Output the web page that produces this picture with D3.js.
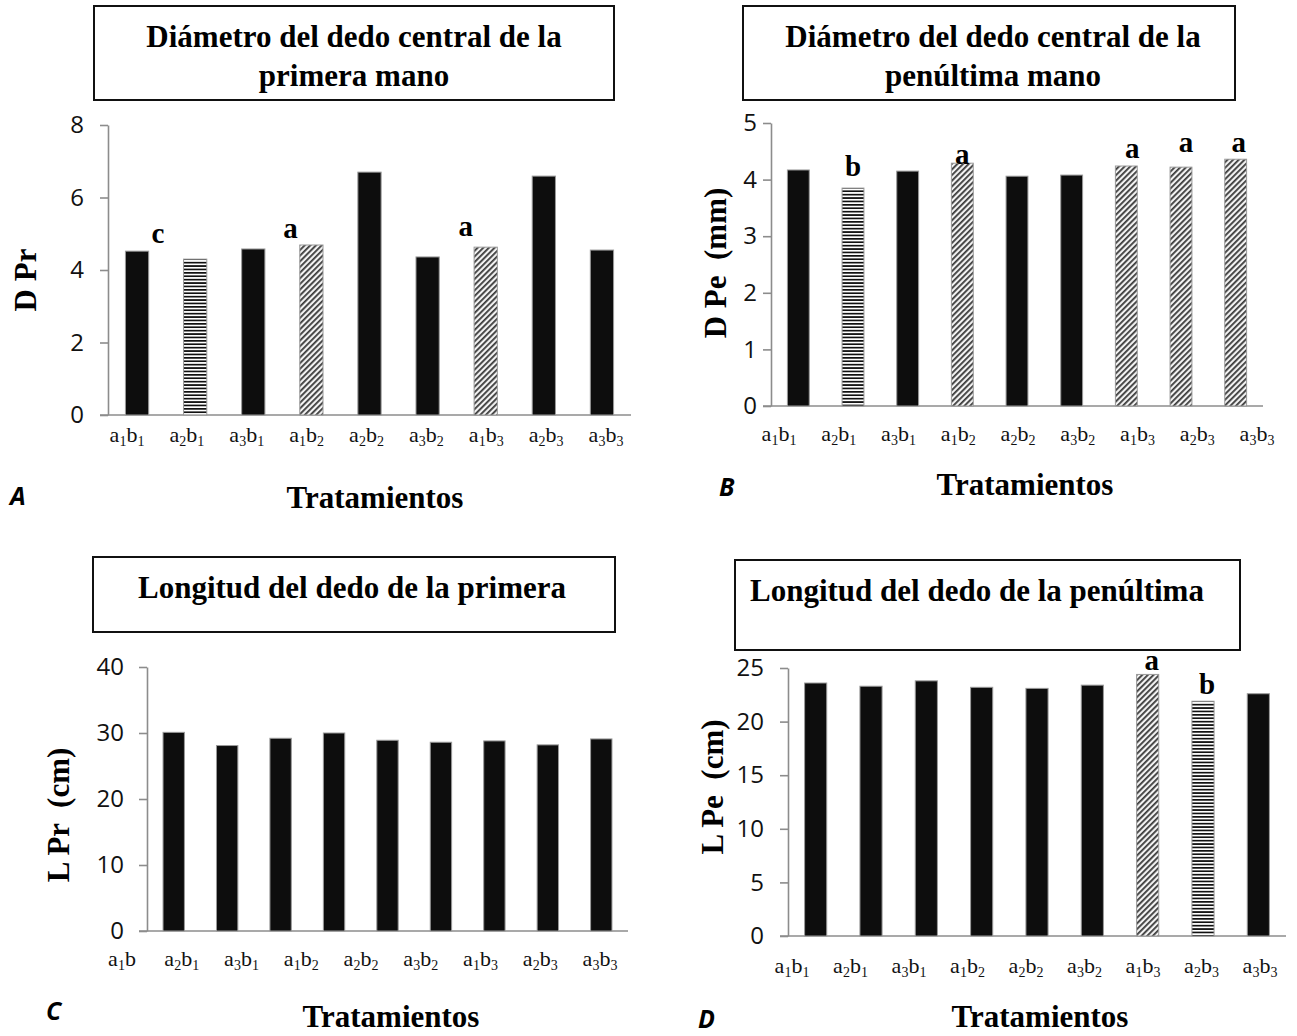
<!DOCTYPE html>
<html>
<head>
<meta charset="utf-8">
<script src="https://cdn.jsdelivr.net/npm/d3@7"></script>
<style>
  body { margin: 0; background: #fff; }
  svg { display: block; }
</style>
</head>
<body>
<div id="graph"></div>
<script>
// treatments (a = factor A level, b = factor B level)
const categories = ["a1b1", "a2b1", "a3b1", "a1b2", "a2b2", "a3b2", "a1b3", "a2b3", "a3b3"];
const labelsC = ["a1b", "a2b1", "a3b1", "a1b2", "a2b2", "a3b2", "a1b3", "a2b3", "a3b3"];

// values
const valuesA = [4.52, 4.30, 4.58, 4.69, 6.70, 4.36, 4.63, 6.59, 4.55];
const valuesB = [4.17, 3.85, 4.15, 4.29, 4.06, 4.08, 4.24, 4.22, 4.36];
const valuesC = [30.1, 28.1, 29.2, 30.0, 28.9, 28.6, 28.8, 28.2, 29.1];
const valuesD = [23.6, 23.3, 23.8, 23.2, 23.1, 23.4, 24.4, 21.9, 22.6];

// fill kind of each bar
const fillsA = ["solid", "horiz", "solid", "diag", "solid", "solid", "diag", "solid", "solid"];
const fillsB = ["solid", "horiz", "solid", "diag", "solid", "solid", "diag", "diag", "diag"];
const fillsC = ["solid", "solid", "solid", "solid", "solid", "solid", "solid", "solid", "solid"];
const fillsD = ["solid", "solid", "solid", "solid", "solid", "solid", "diag", "horiz", "solid"];

// significance letters
const lettersA = ["c", "", "", "a", "", "", "a", "", ""];
const lettersB = ["", "b", "", "a", "", "", "a", "a", "a"];
const lettersD = ["", "", "", "", "", "", "a", "b", ""];

// y ticks
const ticksA = [0, 2, 4, 6, 8];
const ticksB = [0, 1, 2, 3, 4, 5];
const ticksC = [0, 10, 20, 30, 40];
const ticksD = [0, 5, 10, 15, 20, 25];

const titleA = ["Diámetro del dedo central de la", "primera mano"];
const titleB = ["Diámetro del dedo central de la", "penúltima mano"];
const titleC = ["Longitud del dedo de la primera"];
const titleD = ["Longitud del dedo de la penúltima"];

const W = 1297, H = 1036;
const serif = "'Liberation Serif', 'Times New Roman', serif";
const sans = "'Open Sans', 'DejaVu Sans', sans-serif";
const axisGrey = "#8c8c8c";

const svg = d3.select("#graph").append("svg").attr("width", W).attr("height", H);

// patterns
const defs = svg.append("defs");
const ph = defs.append("pattern").attr("id", "horiz").attr("patternUnits", "userSpaceOnUse")
  .attr("width", 8).attr("height", 3.4);
ph.append("rect").attr("width", 8).attr("height", 3.4).attr("fill", "#fff");
ph.append("rect").attr("y", 0).attr("width", 8).attr("height", 1.7).attr("fill", "#111");

const pd = defs.append("pattern").attr("id", "diag").attr("patternUnits", "userSpaceOnUse")
  .attr("width", 4).attr("height", 4).attr("patternTransform", "rotate(-45)");
pd.append("rect").attr("width", 4).attr("height", 4).attr("fill", "#f2f2f2");
pd.append("rect").attr("width", 4).attr("height", 1.8).attr("fill", "#3a3a3a");

const panels = [
  { values: valuesA, fills: fillsA, letters: lettersA, ticks: ticksA, labels: categories, title: titleA,
    x0: 108, x1: 631, yb: 415, yt: 125, pad: 16, labX: [127, 606], labY: 446,
    yTitle: "D Pr", yTitleX: 25, yTitleY: 280, xTitleX: 375, xTitleY: 508,
    tag: "A", tagX: 10, tagY: 505,
    box: { x: 94, y: 6, w: 520, h: 94 }, titleX: 354, titleY: [47, 86], anchor: "middle",
    letterOff: [[21, -8], null, null, [-21, -7], null, null, [-20, -11], null, null] },
  { values: valuesB, fills: fillsB, letters: lettersB, ticks: ticksB, labels: categories, title: titleB,
    x0: 771, x1: 1263, yb: 406, yt: 123, pad: 6, labX: [779, 1257], labY: 445,
    yTitle: "D Pe  (mm)", yTitleX: 715, yTitleY: 263, xTitleX: 1025, xTitleY: 495,
    tag: "B", tagX: 719, tagY: 496,
    box: { x: 743, y: 6, w: 492, h: 94 }, titleX: 993, titleY: [47, 86], anchor: "middle",
    letterOff: [null, [0, -12], null, [0, 1], null, null, [6, -8], [5, -15], [3, -7]] },
  { values: valuesC, fills: fillsC, letters: null, ticks: ticksC, labels: labelsC, title: titleC,
    x0: 147, x1: 628, yb: 931, yt: 667, pad: 15, labX: [122, 600], labY: 970,
    yTitle: "L Pr  (cm)", yTitleX: 58, yTitleY: 815, xTitleX: 391, xTitleY: 1027,
    tag: "C", tagX: 46, tagY: 1020,
    box: { x: 93, y: 557, w: 522, h: 75 }, titleX: 352, titleY: [598], anchor: "middle",
    letterOff: [] },
  { values: valuesD, fills: fillsD, letters: lettersD, ticks: ticksD, labels: categories, title: titleD,
    x0: 788, x1: 1286, yb: 936, yt: 668, pad: 16, labX: [792, 1260], labY: 977,
    yTitle: "L Pe  (cm)", yTitleX: 712, yTitleY: 787, xTitleX: 1040, xTitleY: 1027,
    tag: "D", tagX: 698, tagY: 1028,
    box: { x: 735, y: 560, w: 505, h: 90 }, titleX: 750, titleY: [601], anchor: "start",
    letterOff: [null, null, null, null, null, null, [4, -4], [4, -7], null] }
];

function addLabel(sel, txt) {
  // "a1b2" -> a, sub 1, b, sub 2
  const parts = txt.match(/[a-z]|\d/g);
  parts.forEach(p => {
    if (/\d/.test(p)) {
      sel.append("tspan").attr("font-size", 14).attr("dy", 4).text(p);
    } else {
      sel.append("tspan").attr("dy", sel.selectAll("tspan").size() ? -4 : 0).text(p);
    }
  });
}

panels.forEach(p => {
  const g = svg.append("g");
  const max = p.ticks[p.ticks.length - 1];

  const x = d3.scaleBand().domain(categories).range([p.x0, p.x1])
    .paddingInner(0.6).paddingOuter(0.3);
  const y = d3.scaleLinear().domain([0, max]).range([p.yb, p.yt]);
  const lx = d3.scalePoint().domain(categories).range(p.labX);

  // title box
  g.append("rect").attr("x", p.box.x).attr("y", p.box.y).attr("width", p.box.w).attr("height", p.box.h)
    .attr("fill", "#fff").attr("stroke", "#111").attr("stroke-width", 2);
  p.title.forEach((t, i) => {
    g.append("text").attr("x", p.titleX).attr("y", p.titleY[i]).attr("text-anchor", p.anchor)
      .attr("font-family", serif).attr("font-weight", "bold").attr("font-size", 31).text(t);
  });

  // y axis
  const ax = g.append("g").attr("transform", `translate(${p.x0},0)`)
    .call(d3.axisLeft(y).tickValues(p.ticks).tickFormat(d3.format("d"))
      .tickSize(8).tickSizeOuter(0).tickPadding(p.pad));
  ax.select(".domain").attr("stroke", axisGrey).attr("stroke-width", 1.6);
  ax.selectAll(".tick line").attr("stroke", axisGrey).attr("stroke-width", 1.6);
  ax.selectAll(".tick text").attr("font-family", sans).attr("font-size", 24).attr("fill", "#111");

  // baseline
  g.append("line").attr("x1", p.x0 - 8).attr("x2", p.x1).attr("y1", y(0)).attr("y2", y(0))
    .attr("stroke", axisGrey).attr("stroke-width", 1.6);

  // bars
  g.append("g").selectAll("rect").data(p.values).join("rect")
    .attr("x", (d, i) => x(categories[i]))
    .attr("width", x.bandwidth())
    .attr("y", d => y(d))
    .attr("height", d => y(0) - y(d))
    .attr("fill", (d, i) => p.fills[i] === "solid" ? "#0d0d0d" : `url(#${p.fills[i]})`)
    .attr("stroke", "#9a9a9a").attr("stroke-width", 1);

  // significance letters
  if (p.letters) {
    p.letters.forEach((l, i) => {
      if (!l) return;
      const o = p.letterOff[i];
      g.append("text").attr("x", x(categories[i]) + x.bandwidth() / 2 + o[0])
        .attr("y", y(p.values[i]) + o[1]).attr("text-anchor", "middle")
        .attr("font-family", serif).attr("font-weight", "bold").attr("font-size", 29).text(l);
    });
  }

  // category labels
  categories.forEach((c, i) => {
    const t = g.append("text").attr("x", lx(c)).attr("y", p.labY).attr("text-anchor", "middle")
      .attr("font-family", serif).attr("font-size", 22).attr("fill", "#111");
    addLabel(t, p.labels[i]);
  });

  // axis titles
  g.append("text").attr("transform", `translate(${p.yTitleX},${p.yTitleY}) rotate(-90)`)
    .attr("text-anchor", "middle").attr("dy", "0.35em")
    .attr("font-family", serif).attr("font-weight", "bold").attr("font-size", 31)
    .style("white-space", "pre").text(p.yTitle);
  g.append("text").attr("x", p.xTitleX).attr("y", p.xTitleY).attr("text-anchor", "middle")
    .attr("font-family", serif).attr("font-weight", "bold").attr("font-size", 31).text("Tratamientos");

  // panel tag
  g.append("text").attr("x", p.tagX).attr("y", p.tagY)
    .attr("font-family", sans).attr("font-weight", "bold").attr("font-style", "italic")
    .attr("font-size", 25).text(p.tag);
});
</script>
</body>
</html>
